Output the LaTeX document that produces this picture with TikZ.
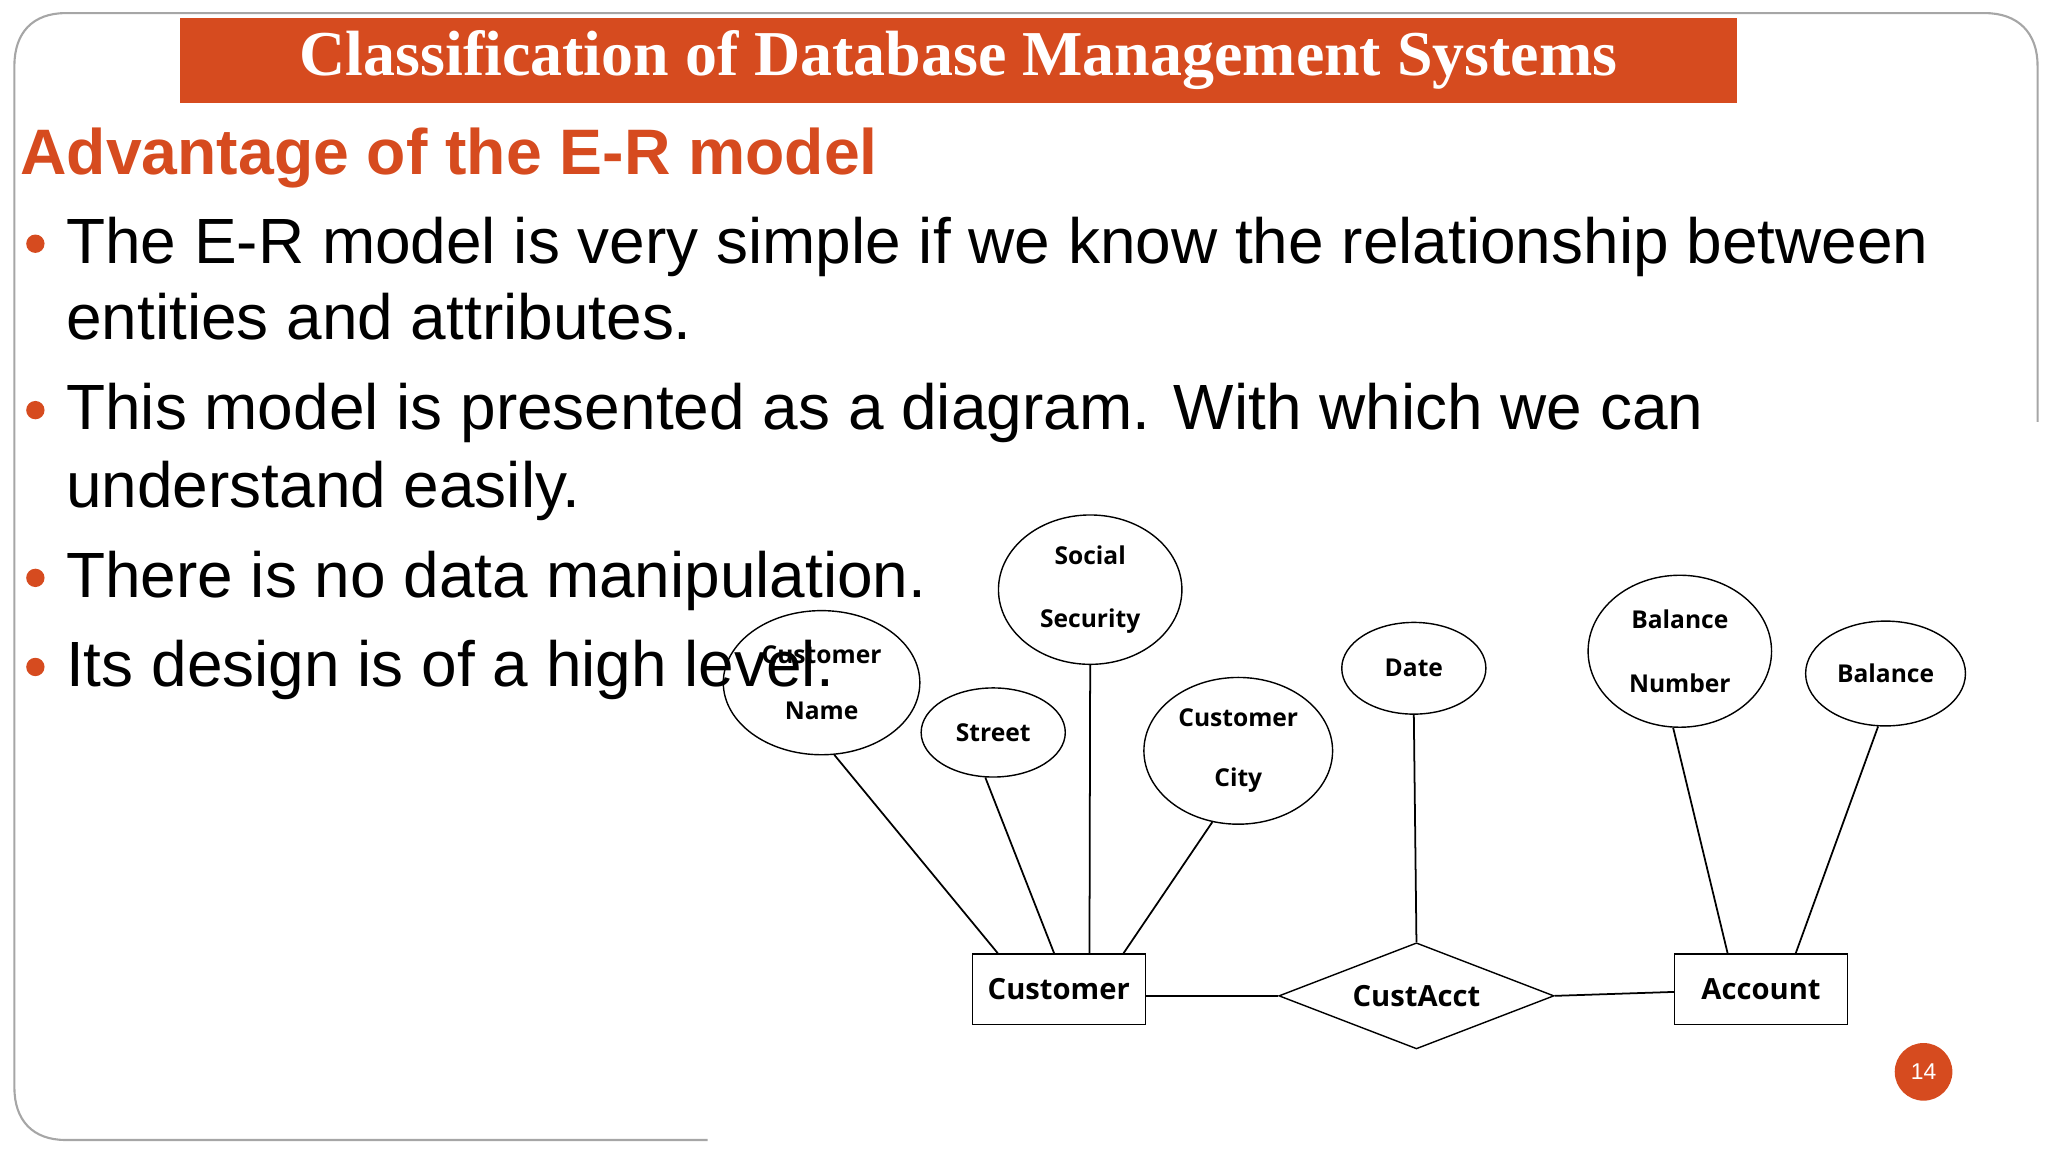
\documentclass[tikz,border=0pt]{standalone}
\usepackage{fontspec}
\setmainfont{Liberation Serif}
\setsansfont{Liberation Sans}
\newfontfamily\erfont{Open Sans}
\usetikzlibrary{shapes.geometric,calc}
\definecolor{org}{HTML}{D64B1F}
\begin{document}
\begin{tikzpicture}[x=0.0131cm,y=-0.0131cm,
  attr/.style={draw,ellipse,inner sep=0pt,font=\erfont\bfseries\fontsize{7}{8}\selectfont,align=center},
  ent/.style={draw,rectangle,inner sep=0pt,minimum width=132*0.0131cm,minimum height=54*0.0131cm,font=\erfont\bfseries\fontsize{8.3}{10}\selectfont},
  btxt/.style={anchor=base west,inner sep=0pt,font=\sffamily\fontsize{18.2}{22}\selectfont},
  bdot/.style={circle,fill=org,inner sep=0pt,minimum size=14*0.0131cm},
  conn/.style={draw,line width=0.5pt}]
\useasboundingbox (0,0) rectangle (1563,880);
% frame
\draw[gray!70,line width=0.6pt] (540,870) -- (50,870) .. controls (25,870) and (11,855) .. (11,830) -- (11,50) .. controls (11,25) and (25,10) .. (50,10) -- (1515,10) .. controls (1540,10) and (1555,25) .. (1555,50) -- (1555,322);
% title
\node[fill=org,minimum width=1188*0.0131cm,minimum height=65*0.0131cm,inner sep=0pt,anchor=north west] (title) at (137,13) {};
\node[text=white,font=\bfseries\fontsize{18.2}{21}\selectfont] (tt) at (title.center) {Classification of Database Management Systems};
\node[anchor=base west,inner sep=0pt,text=org,font=\sffamily\bfseries\fontsize{18.3}{22}\selectfont] (head) at (15,133) {Advantage of the E-R model};
% ER
\node[attr,minimum width=150*0.0131cm,minimum height=110*0.0131cm] (cn) at (627,521) {Customer\\[8pt]Name};
\node[attr,minimum width=140*0.0131cm,minimum height=114*0.0131cm] (ss) at (832,450) {Social\\[10pt]Security};
\node[attr,minimum width=110*0.0131cm,minimum height=68*0.0131cm] (st) at (758,559) {Street};
\node[attr,minimum width=144*0.0131cm,minimum height=112*0.0131cm] (cc) at (945,573) {Customer\\[9pt]City};
\node[attr,minimum width=110*0.0131cm,minimum height=70*0.0131cm] (dt) at (1079,510) {Date};
\node[attr,minimum width=140*0.0131cm,minimum height=116*0.0131cm] (bn) at (1282,497) {Balance\\[10pt]Number};
\node[attr,minimum width=122*0.0131cm,minimum height=80*0.0131cm] (bl) at (1439,514) {Balance};
\node[ent] (cu) at (808,755) {Customer};
\node[ent] (ac) at (1344,755) {Account};
\node[draw,diamond,aspect=2.6,inner sep=0pt,minimum width=210*0.0131cm,minimum height=81*0.0131cm,font=\erfont\bfseries\fontsize{8.3}{10}\selectfont] (ca) at (1081,760) {CustAcct};
\draw[conn] (cn.-80) -- ($(cu.north west)+(20,0)$);
\draw[conn] (st.-100) -- ($(cu.north west)+(63,0)$);
\draw[conn] (ss.south) -- ($(cu.north west)+(90,0)$);
\draw[conn] (cc.-110) -- ($(cu.north west)+(116,0)$);
\draw[conn] (dt.south) -- (ca.north);
\draw[conn] (bn.-95) -- ($(ac.north west)+(41,0)$);
\draw[conn] (bl.-98) -- ($(ac.north west)+(93,0)$);
\draw[conn] (cu.east |- ca.west) -- (ca.west);
\draw[conn] (ca.east) -- ($(ac.west)+(0,2)$);
% bullets
\node[bdot] (d1) at (27,186) {};
\node[btxt] (b1) at (50,201) {The E-R model is very simple if we know the relationship between};
\node[btxt] (b1b) at (50,259) {entities and attributes.};
\node[bdot] (d2) at (27,313) {};
\node[btxt] (b2) at (50,328) {This model is presented as a diagram. With which we can};
\node[btxt] (b2b) at (50,387) {understand easily.};
\node[bdot] (d3) at (27,441) {};
\node[btxt] (b3) at (50,456) {There is no data manipulation.};
\node[bdot] (d4) at (27,509) {};
\node[btxt] (b4) at (50,524) {Its design is of a high level.};
% page number
\node[circle,fill=org,minimum size=44*0.0131cm,inner sep=0pt,text=white,font=\sffamily\fontsize{6.5}{7}\selectfont] (pg) at (1468,818) {14};
\end{tikzpicture}
\end{document}
